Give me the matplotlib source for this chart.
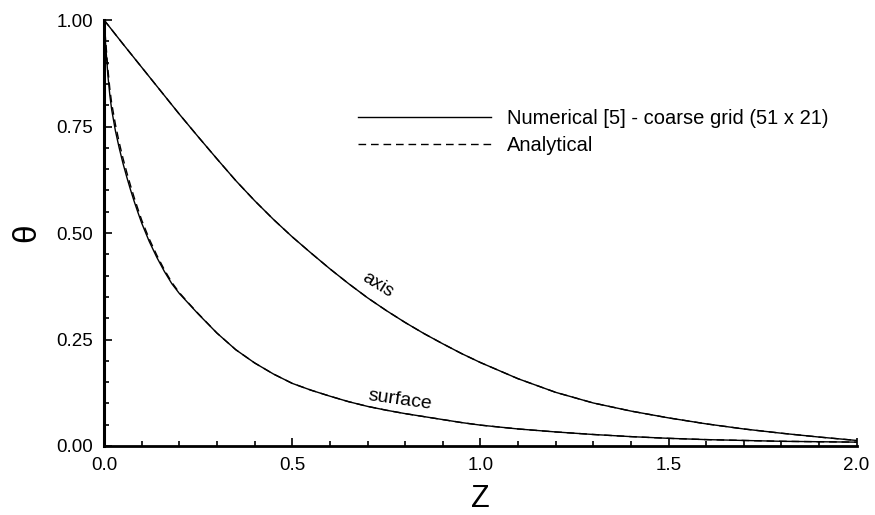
import matplotlib
matplotlib.use("Agg")
import matplotlib.pyplot as plt
from matplotlib.ticker import MultipleLocator, FormatStrFormatter

plt.rcParams['font.family'] = ['Liberation Sans', 'DejaVu Sans']

# axis curve (numerical)
z_axis = [0.0, 0.05, 0.1, 0.15, 0.2, 0.25, 0.3, 0.35, 0.4, 0.45, 0.5, 0.55,
          0.6, 0.65, 0.7, 0.75, 0.8, 0.85, 0.9, 0.95, 1.0, 1.1, 1.2, 1.3,
          1.4, 1.5, 1.6, 1.7, 1.8, 1.9, 2.0]
th_axis = [1.0, 0.944, 0.889, 0.834, 0.779, 0.726, 0.674, 0.623, 0.576,
           0.532, 0.491, 0.453, 0.416, 0.381, 0.348, 0.318, 0.290, 0.264,
           0.240, 0.217, 0.196, 0.158, 0.126, 0.101, 0.082, 0.066, 0.052,
           0.040, 0.030, 0.021, 0.013]

# surface curve (numerical)
z_surf = [0.0, 0.0025, 0.005, 0.0075, 0.01, 0.015, 0.02, 0.03, 0.04, 0.05,
          0.06, 0.07, 0.08, 0.09, 0.1, 0.12, 0.14, 0.16, 0.18, 0.2, 0.225,
          0.25, 0.3, 0.35, 0.4, 0.45, 0.5, 0.55, 0.6, 0.65, 0.7, 0.75, 0.8,
          0.85, 0.9, 0.95, 1.0, 1.1, 1.2, 1.3, 1.4, 1.5, 1.6, 1.7, 1.8, 1.9,
          2.0]
th_surf = [1.0, 0.96, 0.93, 0.90, 0.87, 0.825, 0.79, 0.74, 0.70, 0.664,
           0.632, 0.602, 0.574, 0.548, 0.523, 0.480, 0.443, 0.410, 0.381,
           0.358, 0.334, 0.310, 0.265, 0.226, 0.195, 0.169, 0.147, 0.131,
           0.117, 0.104, 0.093, 0.084, 0.076, 0.069, 0.062, 0.055, 0.049,
           0.040, 0.033, 0.027, 0.022, 0.018, 0.015, 0.013, 0.011, 0.010,
           0.009]

# analytical surface curve, a touch higher near the inlet
th_surf_an = [1.0, 0.97, 0.942, 0.913, 0.885, 0.84, 0.805, 0.755, 0.713,
              0.676, 0.643, 0.612, 0.583, 0.556, 0.530, 0.486, 0.448, 0.414,
              0.384, 0.360, 0.335, 0.311, 0.265, 0.226, 0.195, 0.169, 0.147,
              0.131, 0.117, 0.104, 0.093, 0.084, 0.076, 0.069, 0.062, 0.055,
              0.049, 0.040, 0.033, 0.027, 0.022, 0.018, 0.015, 0.013, 0.011,
              0.010, 0.009]

fig = plt.figure(figsize=(8.75, 5.15), dpi=100)
ax = fig.add_axes([0.119, 0.134, 0.860, 0.827])

ax.plot(z_axis, th_axis, color='black', lw=1.0,
        label='Numerical [5] - coarse grid (51 x 21)')
ax.plot(z_surf, th_surf, color='black', lw=1.0)
ax.plot(z_axis, th_axis, color='black', lw=1.0, dashes=(5.5, 3.5),
        label='Analytical')
ax.plot(z_surf, th_surf_an, color='black', lw=1.0, dashes=(5.5, 3.5))

ax.set_xlim(0, 2.0)
ax.set_ylim(0, 1.0)

for side in ['top', 'right']:
    ax.spines[side].set_visible(False)
ax.spines['left'].set_linewidth(2.2)
ax.spines['bottom'].set_linewidth(2.0)

ax.xaxis.set_major_locator(MultipleLocator(0.5))
ax.xaxis.set_minor_locator(MultipleLocator(0.1))
ax.yaxis.set_major_locator(MultipleLocator(0.25))
ax.yaxis.set_minor_locator(MultipleLocator(0.05))
ax.xaxis.set_major_formatter(FormatStrFormatter('%.1f'))
ax.yaxis.set_major_formatter(FormatStrFormatter('%.2f'))

ax.tick_params(which='major', direction='in', length=6, width=1.2,
               labelsize=13.5, pad=8)
ax.tick_params(which='minor', direction='in', length=3.5, width=1.2)

ax.set_xlabel('Z', fontsize=22, labelpad=7)
ax.set_ylabel('θ', fontsize=24, labelpad=10)

ax.text(0.728, 0.378, 'axis', fontsize=13.5, rotation=-32,
        ha='center', va='center')
ax.text(0.786, 0.108, 'surface', fontsize=14, rotation=-8,
        ha='center', va='center')

ax.legend(loc='upper left', bbox_to_anchor=(0.337, 0.792), frameon=False,
          fontsize=14.5, handlelength=6.6, handletextpad=0.8,
          labelspacing=0.4, borderaxespad=0, borderpad=0)

fig.savefig('out.png', dpi=100)
